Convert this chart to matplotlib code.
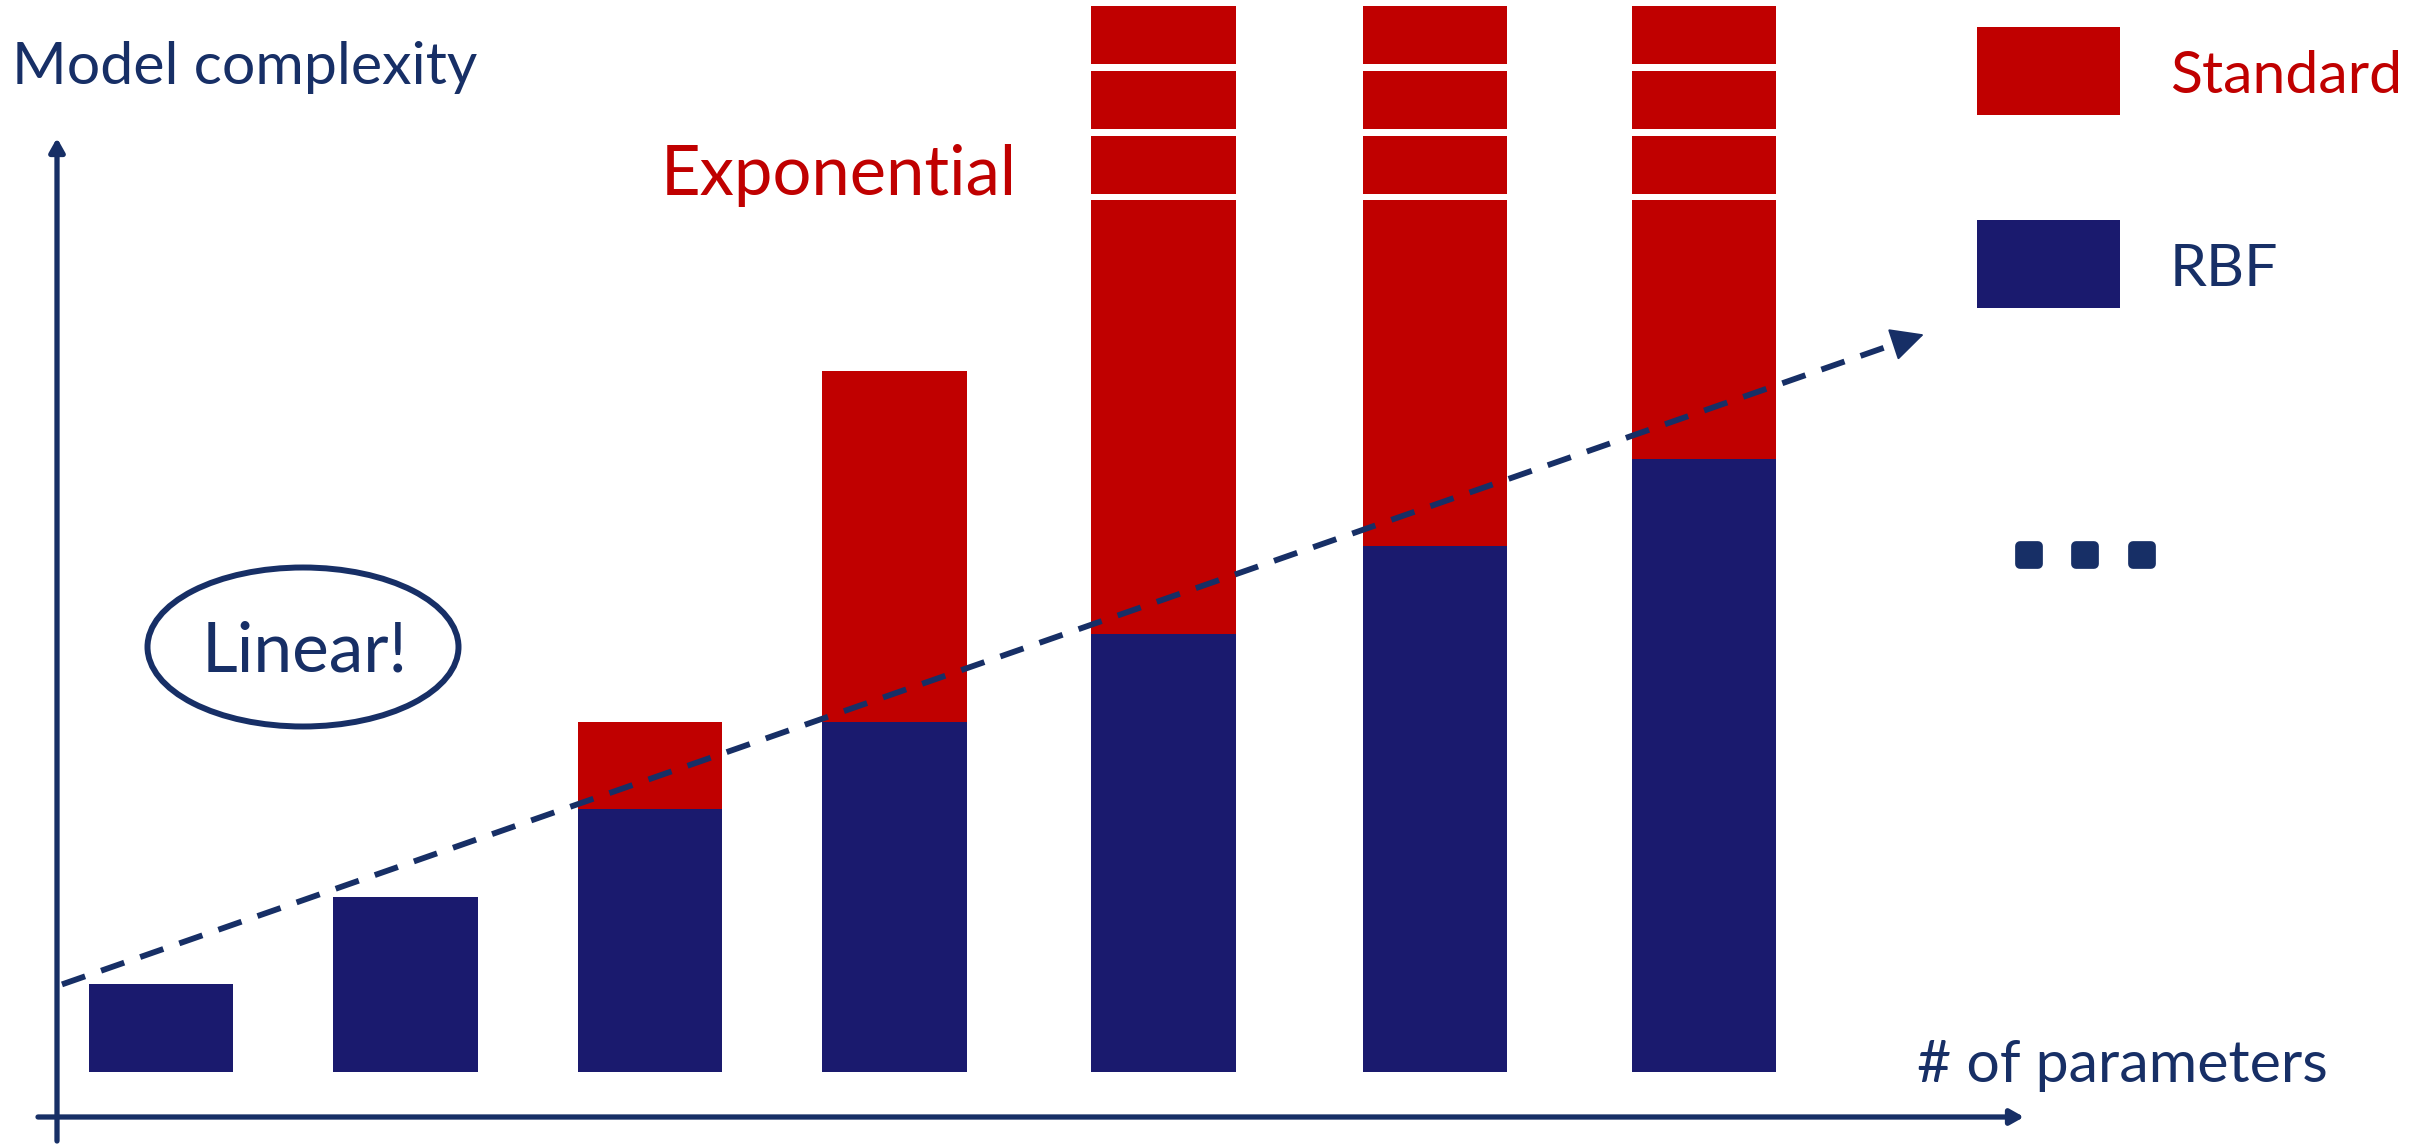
import matplotlib
matplotlib.use('agg')
import matplotlib.pyplot as plt
from matplotlib.patches import Ellipse, Rectangle
from matplotlib.markers import MarkerStyle

plt.rcParams['font.family'] = ['Lato', 'DejaVu Sans']

# complexity per model size, in units of the smallest model
rbf = [1, 2, 3, 4, 5, 6, 7]
standard = [1, 2, 4, 8, 16, 32, 64]
series = ['Standard', 'RBF']

# linear trend drawn over the bars (data units)
trend_x = [0.595, 8.21]
trend_y = [1.0, 8.42]

RED = '#C00000'
BLUE = '#1A1A6E'
NAVY = '#172F66'

W, H = 2425, 1146
slots = [1, 2, 3, 4, 5.1, 6.21, 7.31]
bar_w = 0.59
cap = 9.95          # standard bars taller than this are drawn broken
seg_h, seg_gap = 0.665, 0.075


def fig_px(x, y):
    # pixel position measured from the top left corner -> figure pixels
    return (x, H - y)


def put_text(x, y, s, color, size, **kw):
    fig.text(x / W, 1 - y / H, s, color=color, fontsize=size, va='baseline', **kw)


fig = plt.figure(figsize=(W / 100, H / 100), dpi=100)
ax = fig.add_axes([0, 0, 1, 1])
ax.set_xlim(0.3415, 10.2597)
ax.set_ylim(-0.8447, 12.2374)
ax.axis('off')

# red (standard) first, blue (rbf) drawn on top of it
for x, s, r in zip(slots, standard, rbf):
    if s <= cap:
        ax.bar(x, s, width=bar_w, color=RED, linewidth=0)
    else:
        ax.bar(x, cap, width=bar_w, color=RED, linewidth=0)
        bottom = cap + seg_gap
        for k in range(3):
            ax.bar(x, seg_h, bottom=bottom, width=bar_w, color=RED, linewidth=0)
            bottom += seg_h + seg_gap
    ax.bar(x, r, width=bar_w, color=BLUE, linewidth=0)

# dashed linear trend with a solid head
ax.plot([trend_x[0], trend_x[1] - 0.12], [trend_y[0], trend_y[1] - 0.11],
        color=NAVY, lw=4.2, dashes=(4.2, 2.9), solid_capstyle='butt')
ax.annotate('', xy=(trend_x[1], trend_y[1]), xytext=(trend_x[1] - 0.12, trend_y[1] - 0.11),
            arrowprops=dict(arrowstyle='-|>,head_length=21,head_width=10.5', mutation_scale=1,
                            color=NAVY, lw=1.5, shrinkA=0, shrinkB=0))

# axes drawn as arrows
arrow = dict(arrowstyle='-|>,head_length=8,head_width=4.5', mutation_scale=1,
             color=NAVY, lw=3.8, shrinkA=0, shrinkB=0)
ax.annotate('', xy=fig_px(57, 138), xytext=fig_px(57, 1141),
            xycoords='figure pixels', textcoords='figure pixels', arrowprops=arrow)
ax.annotate('', xy=fig_px(2024, 1117), xytext=fig_px(38, 1117),
            xycoords='figure pixels', textcoords='figure pixels', arrowprops=arrow)

put_text(12, 84, 'Model complexity', NAVY, 42.5)
put_text(1917, 1082, '# of parameters', NAVY, 42.5)
put_text(661, 195, 'Exponential', RED, 49.5)

# legend boxes
for (label, color), top in zip(zip(series, [RED, BLUE]), [27, 220]):
    fig.add_artist(Rectangle((1977 / W, 1 - (top + 88) / H), 143 / W, 88 / H,
                             transform=fig.transFigure, facecolor=color, edgecolor='none'))
    put_text(2170, top + 66, label, color if label == 'Standard' else NAVY, 42.5)

# "Linear!" bubble
fig.add_artist(Ellipse((303 / W, 1 - 647 / H), 311 / W, 159 / H, transform=fig.transFigure,
                       facecolor='none', edgecolor=NAVY, lw=4.3))
fig.text(305 / W, 1 - 672 / H, 'Linear!', color=NAVY, fontsize=50, ha='center', va='baseline')

# trailing dots
for cx in [2029, 2085, 2142]:
    px, py = fig_px(cx, 555)
    ax.plot([px], [py], transform=None, linestyle='none',
            marker=MarkerStyle('s', joinstyle='round'), markersize=12.5,
            markerfacecolor=NAVY, markeredgecolor=NAVY, markeredgewidth=7)

fig.savefig('out.png', dpi=100, facecolor='white')
